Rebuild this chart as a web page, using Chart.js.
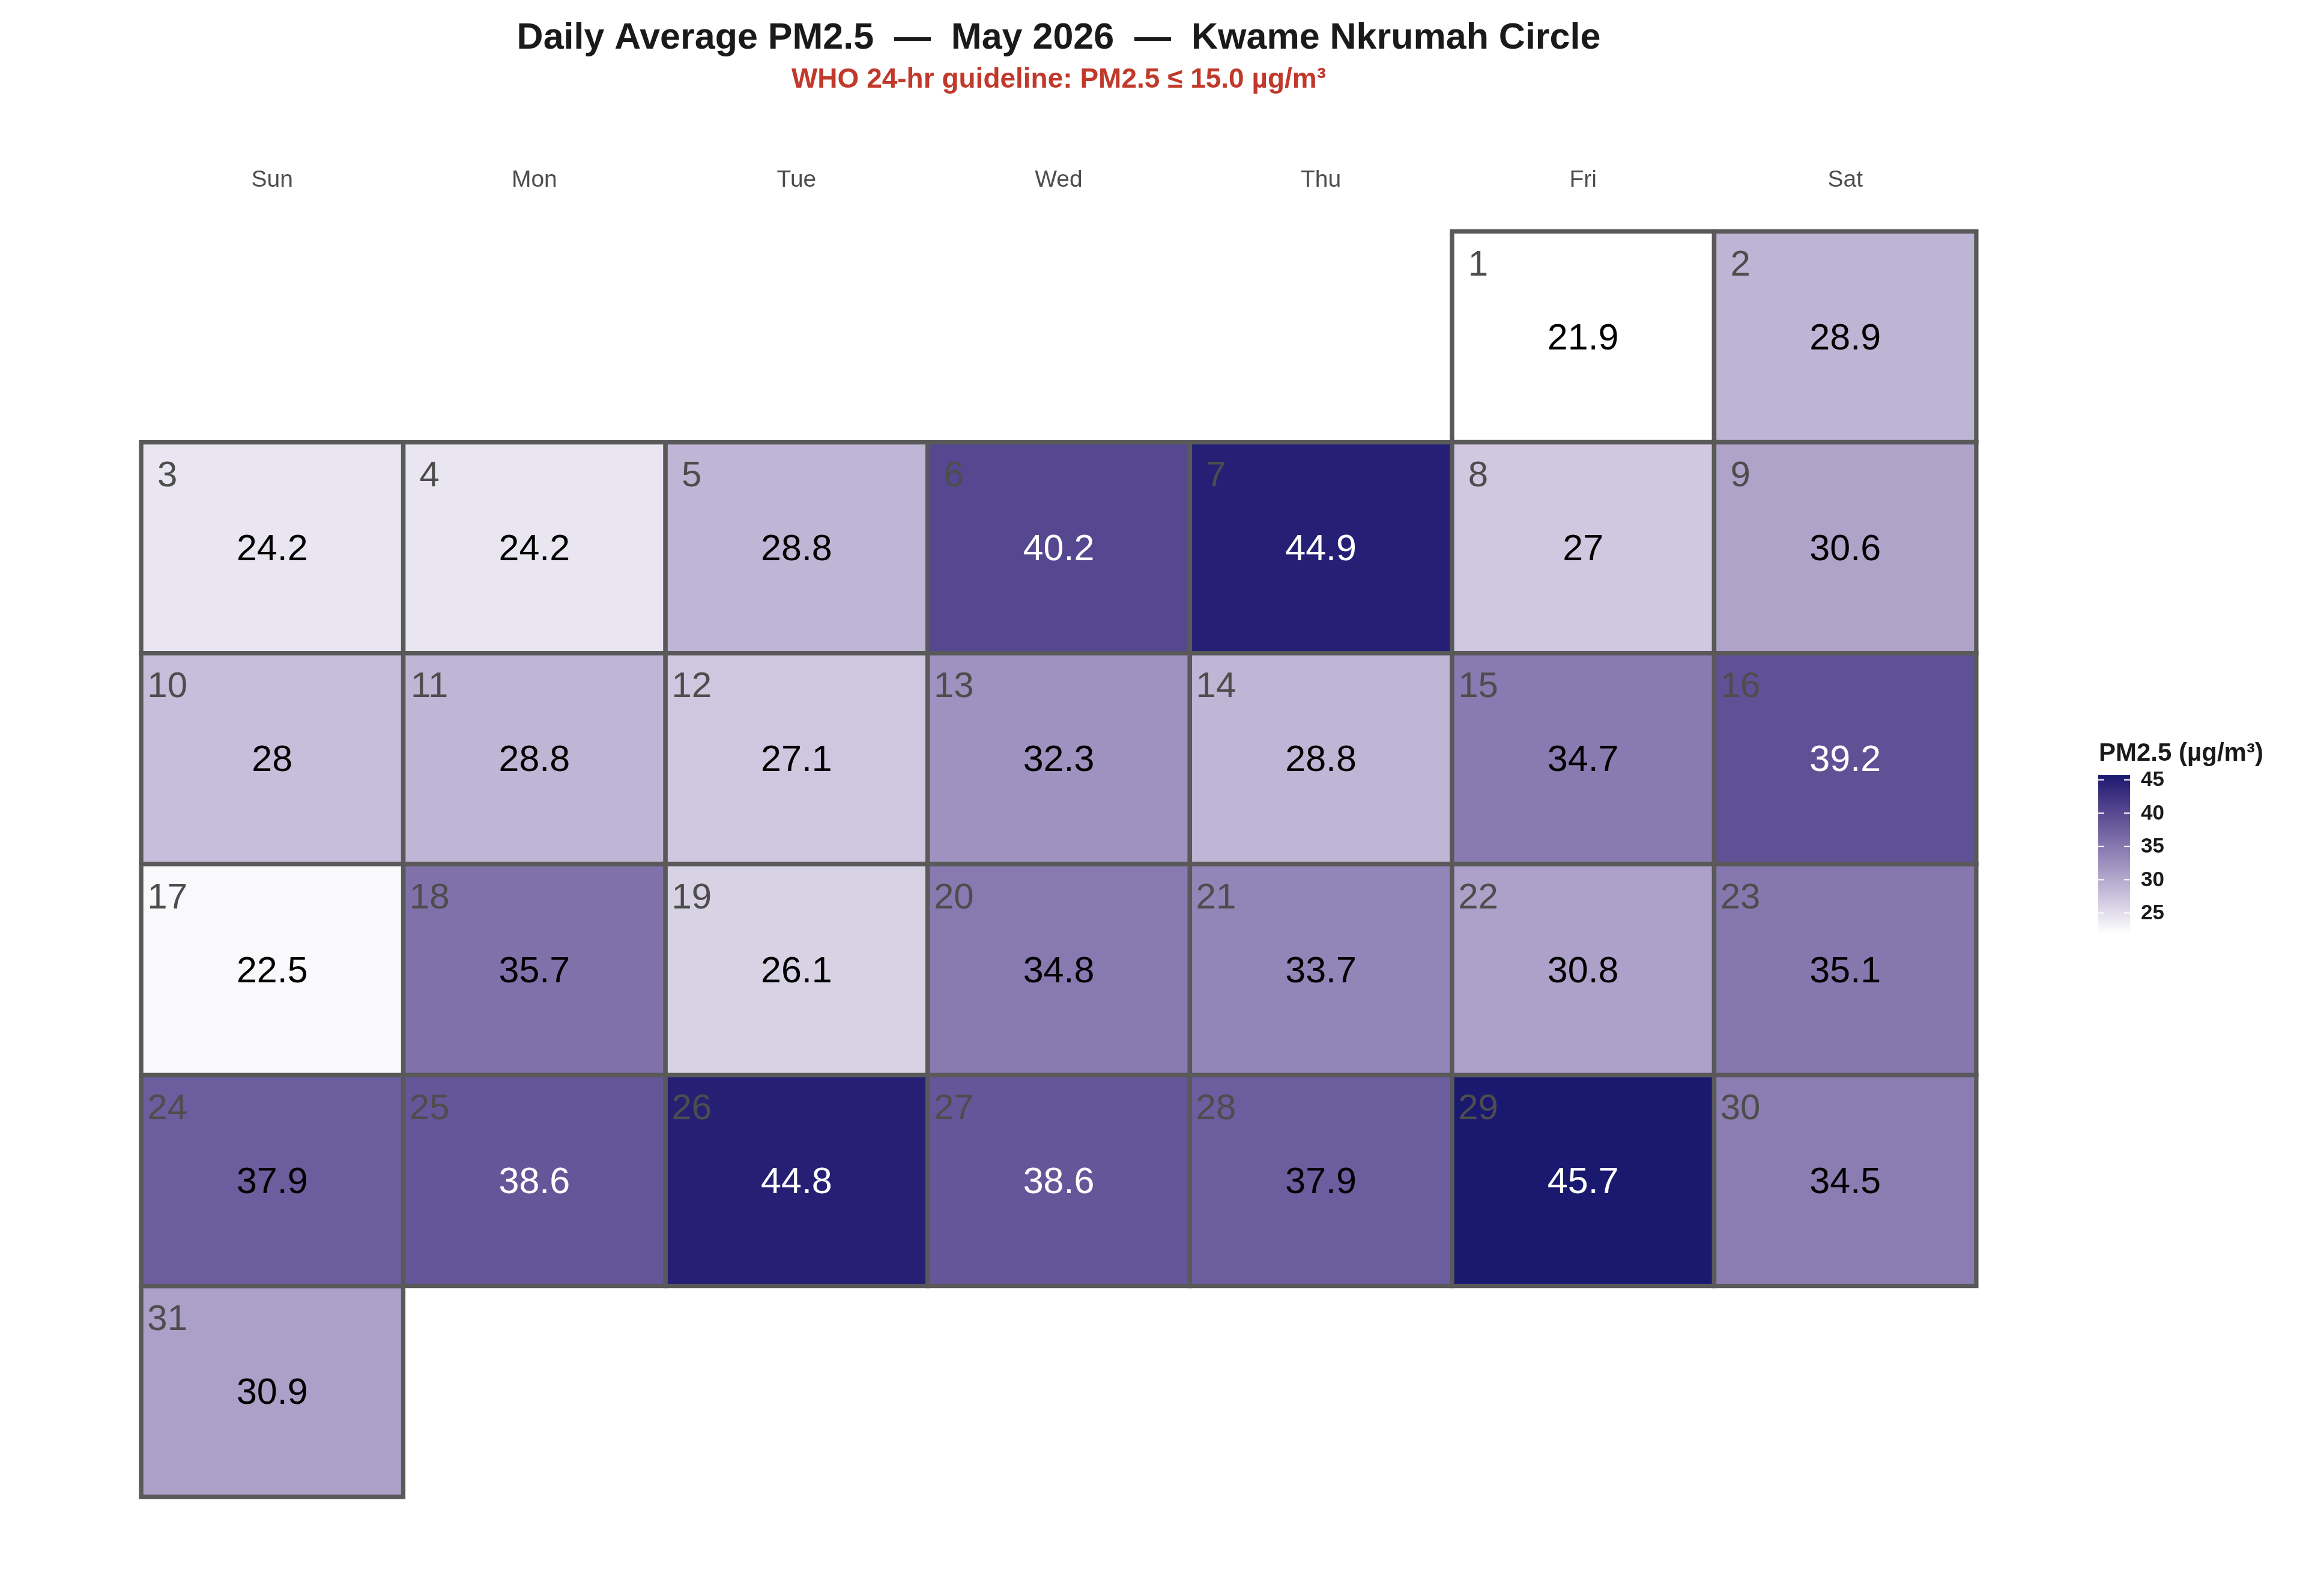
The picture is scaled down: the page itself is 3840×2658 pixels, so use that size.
<!DOCTYPE html>
<html>
<head>
<meta charset="utf-8">
<script src="https://cdn.jsdelivr.net/npm/chart.js@4.4.1/dist/chart.umd.min.js"></script>
<style>
  html, body { margin: 0; padding: 0; background: #ffffff; }
  #wrap { width: 3840px; height: 2658px; }
</style>
</head>
<body>
<div id="wrap"><canvas id="c" width="3840" height="2658"></canvas></div>
<script>
// ---------------- DATA ----------------
const weekdayLabels = ['Sun', 'Mon', 'Tue', 'Wed', 'Thu', 'Fri', 'Sat'];
const calendarYear = 2026;
const calendarMonthIndex = 4; // May
const dayNumbers = [1, 2, 3, 4, 5, 6, 7, 8, 9, 10, 11, 12, 13, 14, 15, 16, 17, 18, 19, 20, 21, 22, 23, 24, 25, 26, 27, 28, 29, 30, 31];
const pm25Values = [21.9, 28.9, 24.2, 24.2, 28.8, 40.2, 44.9, 27, 30.6, 28, 28.8, 27.1, 32.3, 28.8, 34.7, 39.2, 22.5, 35.7, 26.1, 34.8, 33.7, 30.8, 35.1, 37.9, 38.6, 44.8, 38.6, 37.9, 45.7, 34.5, 30.9];
const colorbarTicks = [25, 30, 35, 40, 45];
const titleText = 'Daily Average PM2.5  \u2014  May 2026  \u2014  Kwame Nkrumah Circle';
const subtitleText = 'WHO 24-hr guideline: PM2.5 \u2264 15.0 \u00b5g/m\u00b3';
const legendTitleText = 'PM2.5 (\u00b5g/m\u00b3)';

// ---------------- STYLE ----------------
const FONT = "'Liberation Sans', Arial, Helvetica, sans-serif";
const LOW_COLOR = '#ffffff';
const HIGH_COLOR = '#191970';

// ---------------- colour scale (CIELAB interpolation) ----------------
function hexToRgb(h) { h = h.replace('#', ''); return [parseInt(h.slice(0,2),16), parseInt(h.slice(2,4),16), parseInt(h.slice(4,6),16)]; }
function srgbToLin(c) { c /= 255; return c <= 0.04045 ? c / 12.92 : Math.pow((c + 0.055) / 1.055, 2.4); }
function linToSrgb(c) { const v = c <= 0.0031308 ? 12.92 * c : 1.055 * Math.pow(c, 1 / 2.4) - 0.055; return Math.max(0, Math.min(255, Math.round(v * 255))); }
const WX = 0.95047, WY = 1.0, WZ = 1.08883;
function rgbToLab(rgb) {
  const r = srgbToLin(rgb[0]), g = srgbToLin(rgb[1]), b = srgbToLin(rgb[2]);
  const X = (0.4124564*r + 0.3575761*g + 0.1804375*b) / WX;
  const Y = (0.2126729*r + 0.7151522*g + 0.0721750*b) / WY;
  const Z = (0.0193339*r + 0.1191920*g + 0.9503041*b) / WZ;
  const f = t => t > 216/24389 ? Math.cbrt(t) : (24389/27 * t + 16) / 116;
  const fx = f(X), fy = f(Y), fz = f(Z);
  return [116*fy - 16, 500*(fx - fy), 200*(fy - fz)];
}
function labToRgb(lab) {
  const fy = (lab[0] + 16) / 116, fx = fy + lab[1] / 500, fz = fy - lab[2] / 200;
  const finv = t => { const t3 = t*t*t; return t3 > 216/24389 ? t3 : (116*t - 16) / (24389/27); };
  const X = finv(fx) * WX, Y = finv(fy) * WY, Z = finv(fz) * WZ;
  const r = 3.2404542*X - 1.5371385*Y - 0.4985314*Z;
  const g = -0.9692660*X + 1.8760108*Y + 0.0415560*Z;
  const b = 0.0556434*X - 0.2040259*Y + 1.0572252*Z;
  return [linToSrgb(r), linToSrgb(g), linToSrgb(b)];
}
const LAB_LOW = rgbToLab(hexToRgb(LOW_COLOR));
const LAB_HIGH = rgbToLab(hexToRgb(HIGH_COLOR));
const vMin = Math.min(...pm25Values);
const vMax = Math.max(...pm25Values);
function labFor(v) {
  let t = (v - vMin) / (vMax - vMin);
  t = Math.max(0, Math.min(1, t));
  return [0, 1, 2].map(i => LAB_LOW[i] + t * (LAB_HIGH[i] - LAB_LOW[i]));
}
function fillFor(v) { const c = labToRgb(labFor(v)); return 'rgb(' + c[0] + ',' + c[1] + ',' + c[2] + ')'; }
function textColorFor(v) { return labFor(v)[0] < 42 ? '#ffffff' : '#000000'; }

// ---------------- cells ----------------
const firstDow = new Date(calendarYear, calendarMonthIndex, 1).getDay();
const cells = dayNumbers.map((d, i) => {
  const slot = firstDow + d - 1;
  const row = Math.floor(slot / 7);
  return { x: weekdayLabels[slot % 7], y: [row, row + 1], v: pm25Values[i], day: d };
});
const nRows = Math.max(...cells.map(c => c.y[1]));

// ---------------- plugins ----------------
const cellTextPlugin = {
  id: 'cellText',
  afterDatasetsDraw(chart) {
    const ctx = chart.ctx;
    const meta = chart.getDatasetMeta(0);
    ctx.save();
    meta.data.forEach((el, i) => {
      const raw = chart.data.datasets[0].data[i];
      const p = el.getProps(['x', 'y', 'base', 'width'], true);
      const top = Math.min(p.y, p.base);
      const h = Math.abs(p.base - p.y);
      const left = p.x - p.width / 2;
      ctx.textAlign = 'center';
      ctx.textBaseline = 'middle';
      ctx.font = '60px ' + FONT;
      ctx.fillStyle = '#4d4d4d';
      ctx.fillText(String(raw.day), left + 0.1 * p.width, top + 0.162 * h);
      ctx.font = '61px ' + FONT;
      ctx.fillStyle = textColorFor(raw.v);
      ctx.fillText(String(raw.v), p.x, top + h / 2 + 4);
    });
    ctx.restore();
  }
};

const colorbarPlugin = {
  id: 'colorbar',
  afterDraw(chart) {
    const ctx = chart.ctx;
    const x0 = 3494, w = 53, yTop = 1291, yBot = 1555;
    const span = yBot - yTop;
    ctx.save();
    for (let y = yTop; y < yBot; y++) {
      const v = vMax - ((y - yTop + 0.5) / span) * (vMax - vMin);
      ctx.fillStyle = fillFor(v);
      ctx.fillRect(x0, y, w, 1);
    }
    ctx.strokeStyle = '#ffffff';
    ctx.lineWidth = 2;
    ctx.fillStyle = '#1a1a1a';
    ctx.font = 'bold 35px ' + FONT;
    ctx.textAlign = 'left';
    ctx.textBaseline = 'middle';
    colorbarTicks.forEach(t => {
      const yy = yTop + ((vMax - t) / (vMax - vMin)) * span;
      ctx.beginPath();
      ctx.moveTo(x0, yy); ctx.lineTo(x0 + 10, yy);
      ctx.moveTo(x0 + w - 10, yy); ctx.lineTo(x0 + w, yy);
      ctx.stroke();
      ctx.fillText(String(t), 3565, yy + 1);
    });
    ctx.font = 'bold 42px ' + FONT;
    ctx.fillStyle = '#1a1a1a';
    ctx.fillText(legendTitleText, 3495, 1255);
    ctx.restore();
  }
};

// ---------------- chart ----------------
new Chart(document.getElementById('c').getContext('2d'), {
  type: 'bar',
  data: {
    labels: weekdayLabels,
    datasets: [{
      data: cells,
      backgroundColor: c => (c.raw ? fillFor(c.raw.v) : '#ffffff'),
      borderColor: '#595959',
      borderWidth: 7.5,
      inflateAmount: 3.75,
      borderSkipped: false,
      clip: false,
      barPercentage: 1,
      categoryPercentage: 1
    }]
  },
  options: {
    responsive: false,
    devicePixelRatio: 1,
    animation: false,
    events: [],
    layout: { padding: { left: 235, right: 549, top: 0, bottom: 165 } },
    scales: {
      x: {
        type: 'category',
        position: 'top',
        offset: true,
        grid: { display: false, drawTicks: false },
        border: { display: false },
        ticks: { font: { family: FONT, size: 39 }, color: '#4d4d4d', padding: 62, maxRotation: 0, autoSkip: false }
      },
      y: { type: 'linear', min: 0, max: nRows, reverse: true, display: false }
    },
    plugins: {
      legend: { display: false },
      tooltip: { enabled: false },
      title: {
        display: true,
        text: titleText,
        color: '#1a1a1a',
        font: { family: FONT, size: 61, weight: 'bold' },
        padding: { top: 28, bottom: 5 }
      },
      subtitle: {
        display: true,
        text: subtitleText,
        color: '#c0392b',
        font: { family: FONT, size: 46, weight: 'bold' },
        padding: { top: 0, bottom: 53 }
      }
    }
  },
  plugins: [cellTextPlugin, colorbarPlugin]
});
</script>
</body>
</html>
